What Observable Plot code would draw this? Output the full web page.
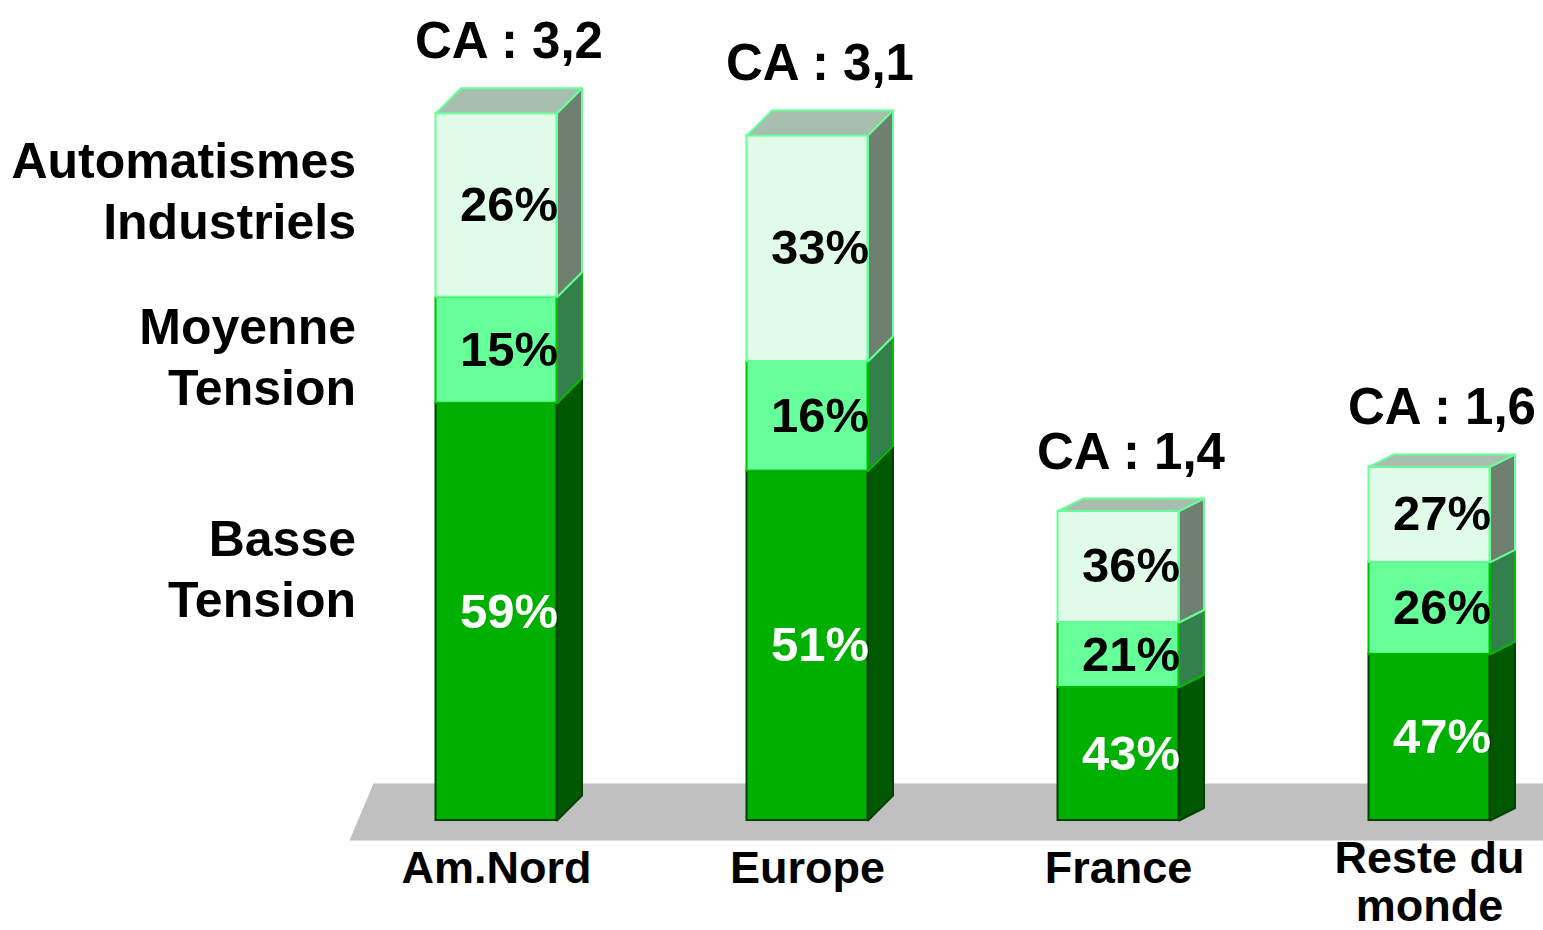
<!DOCTYPE html>
<html>
<head>
<meta charset="utf-8">
<script src="https://cdn.jsdelivr.net/npm/d3@7"></script>
<script src="https://cdn.jsdelivr.net/npm/@observablehq/plot@0.6"></script>
<style>
  html, body { margin: 0; padding: 0; background: #ffffff; }
  #chart svg { display: block; }
</style>
</head>
<body>
<div id="chart"></div>
<script>
// ---- Data ----
const regions = ["Am.Nord", "Europe", "France", "Reste du\nmonde"];
const ca = [3.2, 3.1, 1.4, 1.6];
const seriesNames = ["Basse\nTension", "Moyenne\nTension", "Automatismes\nIndustriels"];
const basseTension = [59, 51, 43, 47];
const moyenneTension = [15, 16, 21, 26];
const automatismes = [26, 33, 36, 27];

// ---- Styles ----
const font = "'Liberation Sans', Arial, Helvetica, sans-serif";
const frontFill = ["#00b000", "#66ff99", "#e0fce8"];
const sideFill = ["#005900", "#33804d", "#708070"];
const edge = ["#004000", "#00c000", "#66ff99"];
const topFill = "#a8bfb0";
const labelColor = ["#ffffff", "#000000", "#000000"];
const legendDy = [-45, 5, -16]; // px shift of the left-hand series labels

// scale geometry (px per unit) used to express 3-D depth in data units
const xRange = [340.5, 1584.5], xDomain = [-0.5, 3.5];
const yBase = 820, pxPerCA = 221, yDomain = [0, 3.7];
const pxPerIdx = (xRange[1] - xRange[0]) / (xDomain[1] - xDomain[0]);
const halfW = 60.5 / pxPerIdx;
const depthX = 25 / pxPerIdx;
const depthPx = (i) => (i < 2 ? 25 : 12.5);
const depthY = (i) => depthPx(i) / pxPerCA;

// ---- Build segments ----
const pcts = [basseTension, moyenneTension, automatismes];
const segs = [];
regions.forEach((r, i) => {
  let acc = 0;
  pcts.forEach((arr, s) => {
    const y1 = ca[i] * acc / 100;
    acc += arr[i];
    const y2 = ca[i] * acc / 100;
    segs.push({i, s, y1, y2, pct: arr[i]});
  });
});

const polys = [];
segs.forEach((d, k) => {
  const xr = d.i + halfW, dy = depthY(d.i);
  const side = [[xr, d.y1], [xr + depthX, d.y1 + dy], [xr + depthX, d.y2 + dy], [xr, d.y2], [xr, d.y1]];
  side.forEach(([x, y]) => polys.push({id: "side" + k, x, y, fill: sideFill[d.s], stroke: edge[d.s]}));
  if (d.s === 2) {
    const xl = d.i - halfW;
    const top = [[xl, d.y2], [xl + depthX, d.y2 + dy], [xr + depthX, d.y2 + dy], [xr, d.y2], [xl, d.y2]];
    top.forEach(([x, y]) => polys.push({id: "top" + k, x, y, fill: topFill, stroke: edge[2]}));
  }
});

// floor (decorative parallelogram)
const fx = (p) => xDomain[0] + (p - xRange[0]) / pxPerIdx;
const fy = (p) => (yBase - p) / pxPerCA;
const floor = [[fx(349), fy(840)], [fx(373), fy(783)], [fx(1570), fy(783)], [fx(1545), fy(840)], [fx(349), fy(840)]]
  .map(([x, y]) => ({x, y}));

const firstBar = segs.filter(d => d.i === 0);
const regionItems = regions.map((name, i) => ({name, i}));
const singleLine = regionItems.filter(d => !d.name.includes("\n"));
const multiLine = regionItems.filter(d => d.name.includes("\n"));

const chart = Plot.plot({
  width: 1543,
  height: 930,
  margin: 0,
  x: {domain: xDomain, range: xRange, axis: null},
  y: {domain: yDomain, range: [yBase, yBase - yDomain[1] * pxPerCA], axis: null},
  color: {type: "identity"},
  style: {background: "#ffffff", overflow: "visible", fontFamily: font},
  marks: [
    Plot.line(floor, {x: "x", y: "y", fill: "#c0c0c0", stroke: "none"}),
    Plot.rect(segs, {
      x1: d => d.i - halfW, x2: d => d.i + halfW, y1: "y1", y2: "y2",
      fill: d => frontFill[d.s], stroke: d => edge[d.s], strokeWidth: 2
    }),
    Plot.line(polys, {x: "x", y: "y", z: "id", fill: "fill", stroke: "stroke", strokeWidth: 2, strokeLinejoin: "round"}),
    // percentage labels
    Plot.text(segs, {
      x: d => d.i + depthX / 2, y: d => (d.y1 + d.y2) / 2,
      text: d => d.pct + "%", fill: d => labelColor[d.s],
      fontSize: 49, fontWeight: "bold", fontFamily: font
    }),
    // CA labels
    Plot.text(ca, {
      x: (d, i) => i + depthX / 2, y: (d, i) => d + depthY(i),
      text: d => "CA : " + String(d).replace(".", ","),
      lineAnchor: "bottom", dy: -30, fill: "#000000",
      fontSize: 51, fontWeight: "bold", fontFamily: font
    }),
    // category labels
    Plot.text(singleLine, {
      x: "i", y: 0, text: "name",
      lineAnchor: "top", dy: 31, fill: "#000000",
      fontSize: 45, fontWeight: "bold", fontFamily: font
    }),
    Plot.text(multiLine, {
      x: "i", y: 0, text: "name",
      lineAnchor: "top", dy: 19, lineHeight: 1.06, fill: "#000000",
      fontSize: 45, fontWeight: "bold", fontFamily: font
    }),
    // series labels (left)
    Plot.text(firstBar, {
      x: xDomain[0], y: d => (d.y1 + d.y2) / 2 - legendDy[d.s] / pxPerCA,
      text: d => seriesNames[d.s],
      textAnchor: "end", dx: 15, lineHeight: 1.22, fill: "#000000",
      fontSize: 50, fontWeight: "bold", fontFamily: font
    })
  ]
});

document.getElementById("chart").appendChild(chart);
</script>
</body>
</html>
